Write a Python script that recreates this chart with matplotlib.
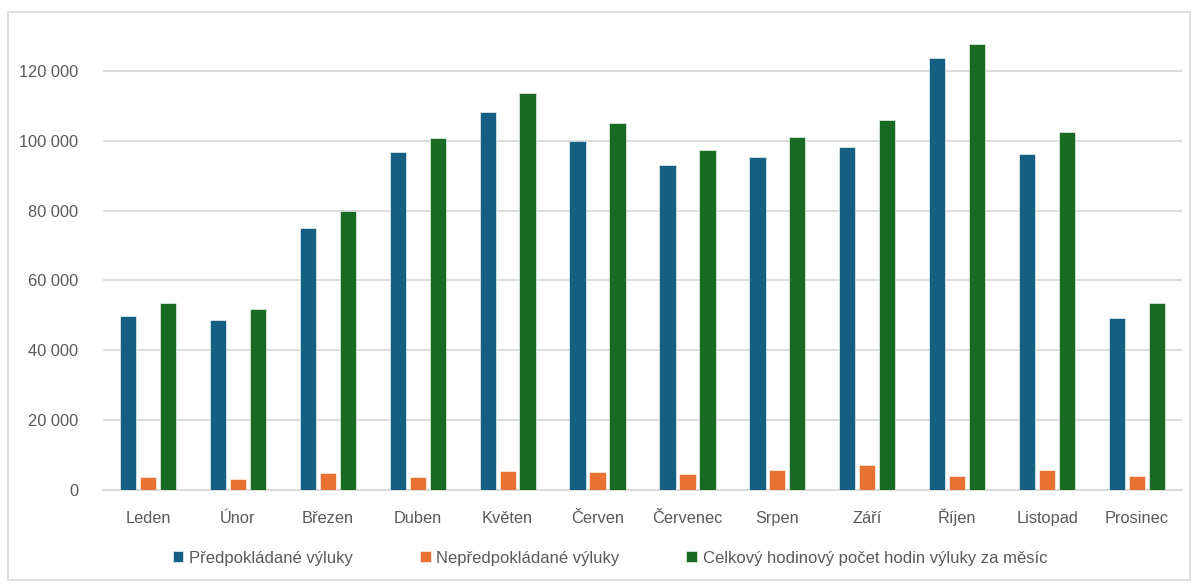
import numpy as np
import matplotlib.pyplot as plt
from matplotlib.patches import Rectangle
from matplotlib.ticker import FuncFormatter

months = ['Leden', 'Únor', 'Březen', 'Duben', 'Květen', 'Červen',
          'Červenec', 'Srpen', 'Září', 'Říjen', 'Listopad', 'Prosinec']
planned = [49800, 48600, 75000, 96800, 108200, 99900,
           93100, 95400, 98200, 123600, 96200, 49300]
unplanned = [3600, 3200, 4800, 3800, 5400, 5100,
             4500, 5700, 7200, 3900, 5700, 3900]
total = [53500, 51800, 79900, 100800, 113700, 105100,
         97400, 101100, 106000, 127600, 102500, 53500]

series = [
    ('Předpokládané výluky', planned, '#156082'),
    ('Nepředpokládané výluky', unplanned, '#E97132'),
    ('Celkový hodinový počet hodin výluky za měsíc', total, '#196B24'),
]

plt.rcParams['font.family'] = ['Liberation Sans', 'DejaVu Sans']

fig = plt.figure(figsize=(11.97, 5.87), dpi=100)
ax = fig.add_axes([103 / 1197, 97 / 587, 1079 / 1197, 468 / 587])

x = np.arange(len(months))
width = 0.18
step = 0.222
for i, (name, vals, color) in enumerate(series):
    ax.bar(x + (i - 1) * step, vals, width, color=color, label=name,
           edgecolor='white', linewidth=0.4, zorder=3)

ax.set_xlim(-0.5, len(months) - 0.5)
ax.set_ylim(0, 134000)
ax.set_yticks(range(0, 120001, 20000))
ax.yaxis.set_major_formatter(FuncFormatter(lambda v, p: f'{int(v):,}'.replace(',', ' ')))
ax.set_xticks(x)
ax.set_xticklabels(months, va='baseline')
ax.grid(axis='y', color='#D9D9D9', linewidth=1.3, zorder=0)
for s in ['top', 'right', 'left']:
    ax.spines[s].set_visible(False)
ax.spines['bottom'].set_color('#D9D9D9')
ax.spines['bottom'].set_linewidth(1.3)
ax.tick_params(axis='both', length=0, labelsize=11.8, colors='#595959')
ax.tick_params(axis='y', pad=18)
ax.tick_params(axis='x', pad=23.5)

leg = fig.legend(loc='center', bbox_to_anchor=(610 / 1197, 1 - 558 / 587), ncol=3,
                 frameon=False, fontsize=12, handlelength=0.65, handleheight=0.65,
                 handletextpad=0.35, columnspacing=4.0)
for t in leg.get_texts():
    t.set_color('#595959')

fig.patches.append(Rectangle((8 / 1197, 7 / 587), 1182 / 1197, 568 / 587,
                             transform=fig.transFigure, fill=False,
                             edgecolor='#D9D9D9', linewidth=1.2))

fig.savefig('out.png', dpi=100)
